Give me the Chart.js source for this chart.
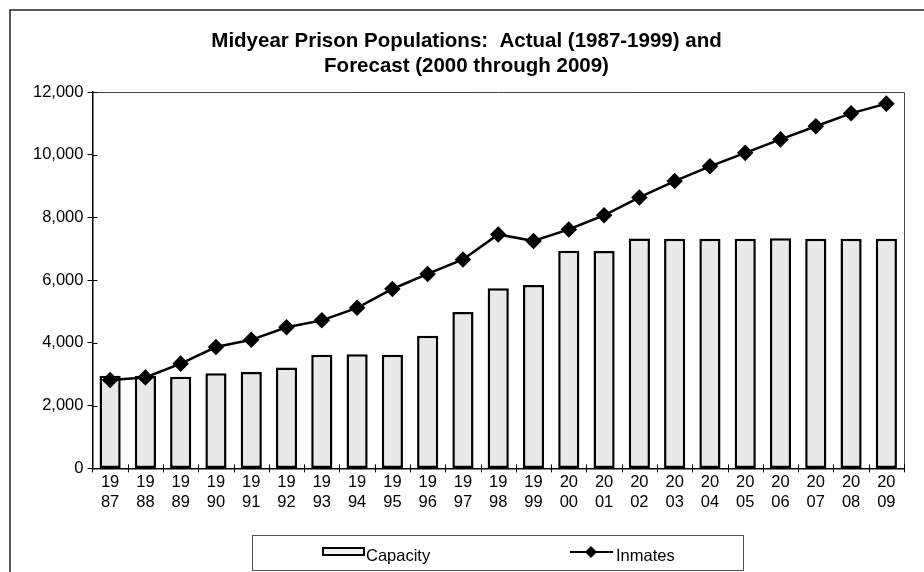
<!DOCTYPE html>
<html>
<head>
<meta charset="utf-8">
<script src="https://cdn.jsdelivr.net/npm/chart.js@4"></script>
<style>
html,body{margin:0;padding:0;background:#fff;}
#wrap{position:relative;width:924px;height:572px;}
</style>
</head>
<body>
<div id="wrap"><canvas id="c"></canvas></div>
<script>
const years = ['1987','1988','1989','1990','1991','1992','1993','1994','1995','1996','1997','1998','1999','2000','2001','2002','2003','2004','2005','2006','2007','2008','2009'];
const capacity = [2950,2950,2920,3030,3070,3220,3620,3640,3620,4230,4990,5740,5850,6940,6930,7330,7320,7320,7320,7340,7320,7320,7320];
const inmates = [2820,2900,3340,3870,4100,4500,4720,5120,5720,6200,6660,7460,7250,7620,8070,8640,9160,9630,10060,10490,10910,11320,11630];
const yTicks = [0,2000,4000,6000,8000,10000,12000];
const titleLines = ['Midyear Prison Populations:  Actual (1987-1999) and','Forecast (2000 through 2009)'];

const FONT = '"Liberation Sans", Arial, sans-serif';
const labels = years.map(y => [y.slice(0,2), y.slice(2)]);

const framePlugin = {
  id: 'frame',
  beforeDraw(chart) {
    const ctx = chart.ctx;
    ctx.save();
    ctx.fillStyle = '#fff';
    ctx.fillRect(0,0,chart.width,chart.height);
    ctx.strokeStyle = '#222';
    ctx.lineWidth = 1.5;
    ctx.beginPath();
    ctx.moveTo(10, chart.height + 2);
    ctx.lineTo(10, 10);
    ctx.lineTo(chart.width + 2, 10);
    ctx.stroke();
    ctx.restore();
  },
  afterDatasetsDraw(chart) {
    const ctx = chart.ctx;
    const a = chart.chartArea;
    ctx.save();
    ctx.strokeStyle = '#444';
    ctx.lineWidth = 1;
    ctx.beginPath();
    ctx.moveTo(a.left, a.top + 0.5);
    ctx.lineTo(a.right + 0.5, a.top + 0.5);
    ctx.lineTo(a.right + 0.5, a.bottom);
    ctx.stroke();
    ctx.strokeStyle = '#000';
    const ys = chart.scales.y;
    yTicks.forEach(v => {
      const py = Math.round(ys.getPixelForValue(v)) + 0.5;
      ctx.beginPath(); ctx.moveTo(a.left, py); ctx.lineTo(a.left + 5, py); ctx.stroke();
    });
    for (let i = 0; i <= years.length; i++) {
      const px = Math.round(a.left + (a.right - a.left) * i / years.length) + 0.5;
      ctx.beginPath(); ctx.moveTo(px, a.bottom - 4); ctx.lineTo(px, a.bottom + 4); ctx.stroke();
    }
    ctx.restore();
  },
  afterDraw(chart) {
    const ctx = chart.ctx;
    const byLabel = {};
    chart.data.datasets.forEach(d => { byLabel[d.type] = d.label; });
    ctx.save();
    const bx = 252, by = 535, bw = 491, bh = 35;
    ctx.strokeStyle = '#555';
    ctx.lineWidth = 1;
    ctx.strokeRect(bx + 0.5, by + 0.5, bw, bh);
    const cy = by + 17;
    ctx.fillStyle = '#f2f2f2';
    ctx.fillRect(323, cy - 4, 41, 7);
    ctx.strokeStyle = '#000';
    ctx.lineWidth = 2;
    ctx.strokeRect(323, cy - 4, 41, 7);
    ctx.fillStyle = '#000';
    ctx.font = '16.5px ' + FONT;
    ctx.textBaseline = 'middle';
    ctx.textAlign = 'left';
    ctx.fillText(byLabel.bar, 366, cy + 4);
    ctx.lineWidth = 2;
    ctx.beginPath(); ctx.moveTo(570, cy); ctx.lineTo(613, cy); ctx.stroke();
    ctx.beginPath();
    ctx.moveTo(591, cy - 6); ctx.lineTo(597, cy); ctx.lineTo(591, cy + 6); ctx.lineTo(585, cy); ctx.closePath();
    ctx.fill();
    ctx.fillText(byLabel.line, 616, cy + 4);
    ctx.restore();
  }
};

new Chart(document.getElementById('c'), {
  data: {
    labels: labels,
    datasets: [
      {
        type: 'line',
        label: 'Inmates',
        data: inmates,
        borderColor: '#000',
        backgroundColor: '#000',
        borderWidth: 2.5,
        pointStyle: 'rectRot',
        pointRadius: 6.5,
        pointHoverRadius: 6.5,
        tension: 0,
        order: 0
      },
      {
        type: 'bar',
        label: 'Capacity',
        data: capacity,
        backgroundColor: '#e9e9e9',
        borderColor: '#000',
        borderWidth: 2.5,
        borderSkipped: false,
        barPercentage: 0.6,
        categoryPercentage: 1.0,
        order: 1
      }
    ]
  },
  options: {
    responsive: true,
    maintainAspectRatio: false,
    animation: false,
    events: [],
    layout: { padding: { left: 29, right: 20, top: 0, bottom: 56 } },
    plugins: {
      legend: { display: false },
      tooltip: { enabled: false },
      title: {
        display: true,
        text: titleLines,
        color: '#000',
        font: { family: FONT, size: 20.5, weight: 'bold', lineHeight: 1.22 },
        padding: { top: 29, bottom: 13 }
      }
    },
    scales: {
      x: {
        type: 'category',
        offset: true,
        grid: { display: true, offset: true, drawOnChartArea: false, drawTicks: false, color: '#000' },
        border: { display: true, color: '#000', width: 1.5 },
        ticks: { color: '#000', font: { family: FONT, size: 16.5, lineHeight: 1.2 }, padding: 4, maxRotation: 0, autoSkip: false }
      },
      y: {
        min: 0, max: 12000,
        afterBuildTicks(scale) { scale.ticks = yTicks.map(v => ({ value: v })); },
        grid: { display: true, drawOnChartArea: false, drawTicks: true, tickLength: 5, color: '#000' },
        border: { display: true, color: '#000', width: 1.5 },
        ticks: { color: '#000', font: { family: FONT, size: 16.5 }, padding: 4,
          callback: v => v.toLocaleString('en-US') }
      }
    }
  },
  plugins: [framePlugin]
});
</script>
</body>
</html>
